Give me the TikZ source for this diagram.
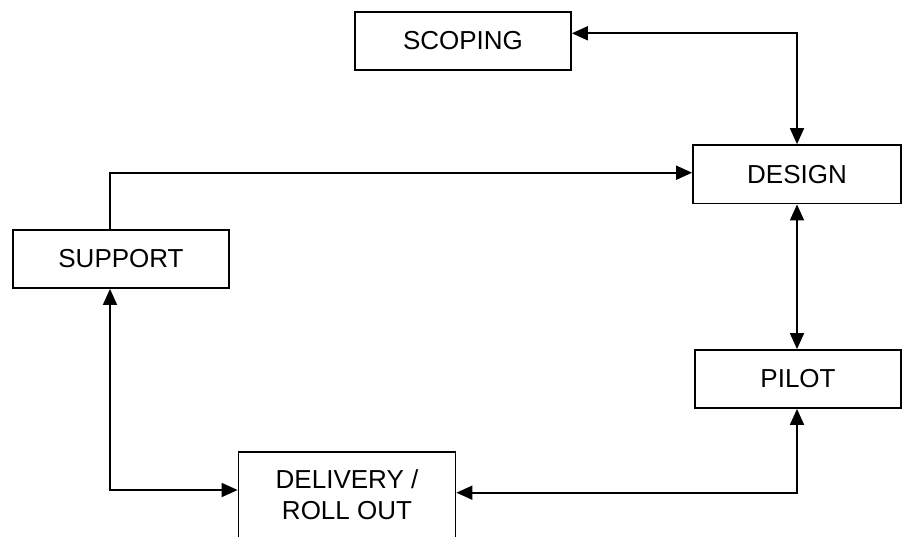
\documentclass[tikz,border=0pt]{standalone}
\usepackage{fontspec}
\setmainfont{Liberation Sans}
\usetikzlibrary{arrows.meta}
\begin{document}
\begin{tikzpicture}[x=1pt,y=-1pt,
  box/.style={draw, line width=1.8pt, inner sep=0pt, align=center,
    font=\fontsize{26}{31.3}\selectfont},
  link/.style={line width=1.8pt, {Triangle[length=16pt,width=14pt]}-{Triangle[length=16pt,width=14pt]}},
  onelink/.style={line width=1.8pt, -{Triangle[length=16pt,width=14pt]}}]
\useasboundingbox (0,0) rectangle (904,536);
\clip (0,0) rectangle (904,536);
\node[box, minimum width=216pt, minimum height=58pt] (scoping) at (463,41) {SCOPING};
\node[box, minimum width=208pt, minimum height=58.5pt] (design) at (797,174.3) {DESIGN};
\node[box, minimum width=206pt, minimum height=58pt] (pilot) at (798,379) {PILOT};
\node[box, minimum width=216pt, minimum height=58pt] (support) at (121,259) {SUPPORT};
\node[box, minimum width=217pt, minimum height=92pt] (del) at (347,498) {\raisebox{5.5pt}{\begin{tabular}{@{}c@{}}DELIVERY /\\ROLL OUT\end{tabular}}};
\draw[link] ([yshift=7.7pt]scoping.east) -| (design.north);
\draw[onelink] ([xshift=-11pt]support.north) |- ([yshift=1.6pt]design.west);
\draw[link] (design.south) -- ([xshift=-1pt]pilot.north);
\draw[link] ([xshift=-11pt]support.south) |- ([yshift=8pt]del.west);
\draw[link] ([xshift=-1pt]pilot.south) |- ([yshift=5.3pt]del.east);
\end{tikzpicture}
\end{document}
